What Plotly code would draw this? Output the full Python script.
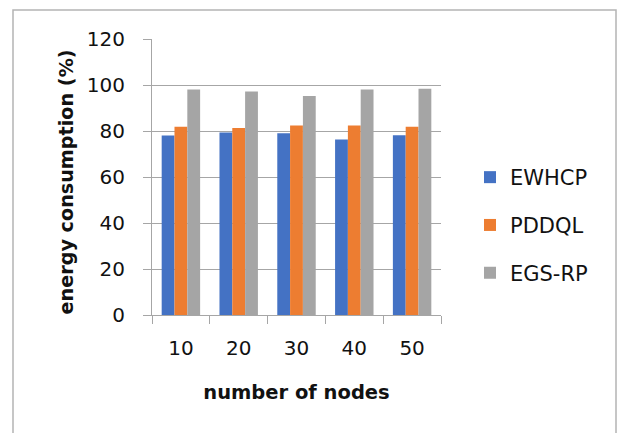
import plotly.graph_objects as go

# Data
nodes = ["10", "20", "30", "40", "50"]
ewhcp = [78.0, 79.4, 79.0, 76.3, 78.2]
pddql = [81.9, 81.3, 82.4, 82.4, 81.9]
egs_rp = [98.0, 97.2, 95.2, 98.0, 98.4]

series_names = ["EWHCP", "PDDQL", "EGS-RP"]
series_values = [ewhcp, pddql, egs_rp]
series_colors = ["#4472C4", "#ED7D31", "#A5A5A5"]

W, H = 619, 433
ML, MR, MT, MB = 152, 178, 39, 118
FONT = "'DejaVu Sans', sans-serif"
GRID = "#a6a6a6"

fig = go.Figure()
for name, vals, col in zip(series_names, series_values, series_colors):
    fig.add_trace(go.Bar(
        x=nodes, y=vals, name=name, legendgroup=name,
        marker=dict(color=col, line=dict(width=0)),
    ))

# outer chart border, expressed in paper coordinates of the plot area
pw, ph = W - ML - MR, H - MT - MB
def px_to_paper_x(px):
    return (px - ML) / pw
def px_to_paper_y(py):
    return (H - MB - py) / ph

fig.add_shape(
    type="rect", xref="paper", yref="paper",
    x0=px_to_paper_x(13), x1=px_to_paper_x(616),
    y0=px_to_paper_y(460), y1=px_to_paper_y(10),
    line=dict(color="#b4b4b4", width=1.5), fillcolor="rgba(0,0,0,0)",
    layer="below",
)

# y-axis title placed as an annotation so it can sit slightly below the plot centre
fig.add_annotation(
    text="<b>energy consumption (%)</b>", textangle=-90,
    xref="paper", yref="paper",
    x=px_to_paper_x(66), y=px_to_paper_y(182.5),
    xanchor="center", yanchor="middle", showarrow=False,
    font=dict(family=FONT, size=19.2, color="#111111"),
)

fig.update_layout(
    width=W, height=H,
    margin=dict(l=ML, r=MR, t=MT, b=MB, autoexpand=False),
    paper_bgcolor="white", plot_bgcolor="white",
    font=dict(family=FONT, size=20, color="#111111"),
    barmode="group", bargap=0.335, bargroupgap=0,
    showlegend=True,
    legend=dict(
        x=px_to_paper_x(470), xanchor="left",
        y=px_to_paper_y(157), yanchor="top",
        font=dict(size=21, color="#111111"),
        tracegroupgap=17.5, bgcolor="rgba(0,0,0,0)",
    ),
    xaxis=dict(
        type="category", tickson="boundaries",
        ticks="outside", ticklen=8, tickcolor=GRID, tickwidth=1,
        showline=True, linecolor=GRID, linewidth=1,
        showgrid=False, ticklabelstandoff=15,
        title=dict(text="<b>number of nodes</b>", font=dict(size=19.5), standoff=26),
    ),
    yaxis=dict(
        range=[0, 120], dtick=20, tick0=0,
        ticks="outside", ticklen=8, tickcolor=GRID, tickwidth=1,
        showline=True, linecolor=GRID, linewidth=1,
        showgrid=True, gridcolor=GRID, gridwidth=1, zeroline=False,
        ticklabelstandoff=14,
    ),
)

fig.write_html("out.html")
